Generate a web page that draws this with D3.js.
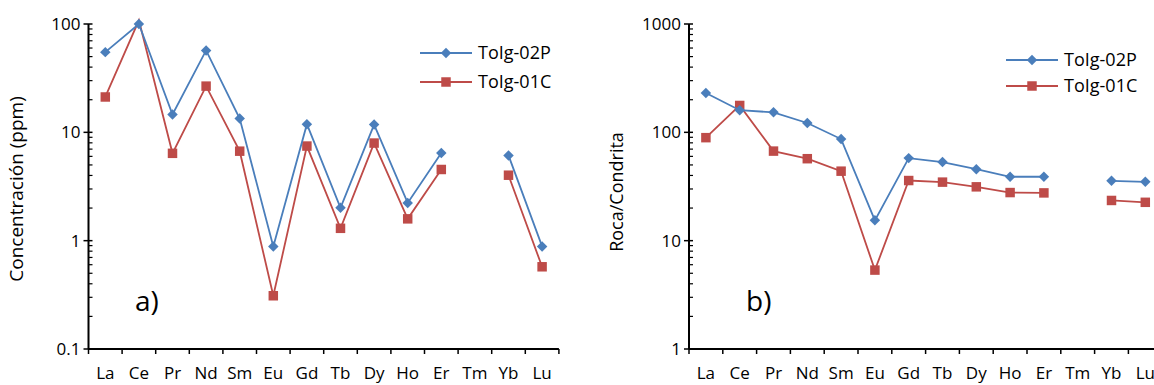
<!DOCTYPE html>
<html>
<head>
<meta charset="utf-8">
<script src="https://cdn.jsdelivr.net/npm/d3@7"></script>
<style>
  body { margin: 0; background: #fff; }
  svg { display: block; font-family: "Open Sans", sans-serif; }
</style>
</head>
<body>
<div id="container"></div>
<script>
// elementos de tierras raras
const elements = ["La", "Ce", "Pr", "Nd", "Sm", "Eu", "Gd", "Tb", "Dy", "Ho", "Er", "Tm", "Yb", "Lu"];

// a) concentracion (ppm)
const ppm02P = [55, 100, 14.6, 57, 13.4, 0.885, 11.9, 2.01, 11.8, 2.23, 6.43, null, 6.12, 0.885];
const ppm01C = [21.2, 108, 6.4, 26.7, 6.7, 0.31, 7.47, 1.3, 7.96, 1.59, 4.54, null, 4.02, 0.574];

// b) normalizado a condrita
const cond02P = [231, 160, 153, 122, 86.7, 15.4, 57.8, 53.1, 45.7, 38.9, 38.9, null, 35.7, 34.9];
const cond01C = [89.3, 177, 67.1, 57.1, 43.8, 5.35, 35.9, 34.7, 31.4, 27.8, 27.6, null, 23.5, 22.6];

const ticksA = [0.1, 1, 10, 100];
const ticksB = [1, 10, 100, 1000];
const seriesNames = ["ToIg-02P", "ToIg-01C"];

const blue = "#4a7ebb", red = "#be4b48";

const svg = d3.select("#container").append("svg")
  .attr("width", 1154)
  .attr("height", 385);

function panel(opt) {
  const g = svg.append("g");
  const x = d3.scaleBand()
    .domain(elements)
    .range([opt.x0, opt.x0 + elements.length * opt.bw]);
  const y = d3.scaleLog()
    .domain([opt.ticks[0], opt.ticks[opt.ticks.length - 1]])
    .range([349, 24]);
  const cx = (d) => x(d) + x.bandwidth() / 2;

  // minor ticks (inside)
  const minor = [];
  for (let i = 0; i < opt.ticks.length - 1; i++) {
    for (let k = 2; k <= 9; k++) minor.push(opt.ticks[i] * k);
  }
  g.selectAll(".minor").data(minor).enter().append("line")
    .attr("x1", opt.x0).attr("x2", opt.x0 + 4)
    .attr("y1", (d) => y(d)).attr("y2", (d) => y(d))
    .attr("stroke", "#000").attr("stroke-width", 1.2);

  // major ticks
  g.selectAll(".major").data(opt.ticks).enter().append("line")
    .attr("x1", opt.x0 - 5).attr("x2", opt.x0 + 4)
    .attr("y1", (d) => y(d)).attr("y2", (d) => y(d))
    .attr("stroke", "#000").attr("stroke-width", 1.5);

  g.selectAll(".ylab").data(opt.ticks).enter().append("text")
    .attr("x", opt.x0 - 8)
    .attr("y", (d) => y(d) + 6)
    .attr("text-anchor", "end")
    .style("font-size", "17px")
    .text((d) => d);

  // x ticks at band edges
  const edges = d3.range(elements.length + 1).map((i) => opt.x0 + i * opt.bw);
  g.selectAll(".xt").data(edges).enter().append("line")
    .attr("x1", (d) => d).attr("x2", (d) => d)
    .attr("y1", 349).attr("y2", 354)
    .attr("stroke", "#000").attr("stroke-width", 1.5);

  g.selectAll(".xlab").data(elements).enter().append("text")
    .attr("x", (d) => cx(d))
    .attr("y", 379)
    .attr("text-anchor", "middle")
    .style("font-size", "17px")
    .text((d) => d);

  // axis lines
  g.append("line")
    .attr("x1", opt.x0).attr("x2", opt.x0)
    .attr("y1", 24).attr("y2", 349)
    .attr("stroke", "#000").attr("stroke-width", 2);
  g.append("line")
    .attr("x1", opt.x0).attr("x2", opt.x0 + elements.length * opt.bw)
    .attr("y1", 349).attr("y2", 349)
    .attr("stroke", "#000").attr("stroke-width", 2);

  // y title
  g.append("text")
    .attr("transform", `translate(${opt.titleX},${opt.titleY}) rotate(-90)`)
    .attr("text-anchor", "middle")
    .style("font-size", opt.titleSize)
    .text(opt.title);

  // panel letter
  g.append("text")
    .attr("x", opt.letterX).attr("y", 311)
    .style("font-size", "28px")
    .text(opt.letter);

  const line = d3.line()
    .defined((d) => d.v != null)
    .x((d) => cx(d.k))
    .y((d) => y(d.v));

  const [lo, hi] = y.domain();
  const draw = (vals, color, size, rot) => {
    const data = elements.map((k, i) => ({ k: k, v: vals[i] }));
    g.append("path").datum(data)
      .attr("d", line)
      .attr("fill", "none")
      .attr("stroke", color)
      .attr("stroke-width", 1.8);
    // markers above the axis maximum are not drawn (as in the original)
    g.selectAll(null)
      .data(data.filter((d) => d.v != null && d.v >= lo && d.v <= hi))
      .enter().append("path")
      .attr("d", d3.symbol().type(d3.symbolSquare).size(size))
      .attr("transform", (d) => `translate(${cx(d.k)},${y(d.v)}) rotate(${rot})`)
      .attr("fill", color);
  };
  draw(opt.s2, red, 90, 0);
  draw(opt.s1, blue, 55, 45);

  // legend
  const leg = [[blue, 55, 45], [red, 90, 0]];
  leg.forEach((l, i) => {
    const ly = opt.legY[i];
    g.append("line")
      .attr("x1", opt.legX).attr("x2", opt.legX + 52)
      .attr("y1", ly).attr("y2", ly)
      .attr("stroke", l[0]).attr("stroke-width", 1.8);
    g.append("path")
      .attr("d", d3.symbol().type(d3.symbolSquare).size(l[1]))
      .attr("transform", `translate(${opt.legX + 26},${ly}) rotate(${l[2]})`)
      .attr("fill", l[0]);
    g.append("text")
      .attr("x", opt.legX + 58).attr("y", ly + 6)
      .style("font-size", "18px")
      .text(seriesNames[i]);
  });
}

panel({
  x0: 88.5, bw: 33.6, ticks: ticksA, s1: ppm02P, s2: ppm01C,
  title: "Concentración (ppm)", titleX: 23, titleY: 189, titleSize: "19px",
  letter: "a)", letterX: 135,
  legX: 420, legY: [53, 82]
});

panel({
  x0: 689, bw: 33.8, ticks: ticksB, s1: cond02P, s2: cond01C,
  title: "Roca/Condrita", titleX: 623, titleY: 192, titleSize: "18px",
  letter: "b)", letterX: 746,
  legX: 1006, legY: [60, 86]
});
</script>
</body>
</html>
